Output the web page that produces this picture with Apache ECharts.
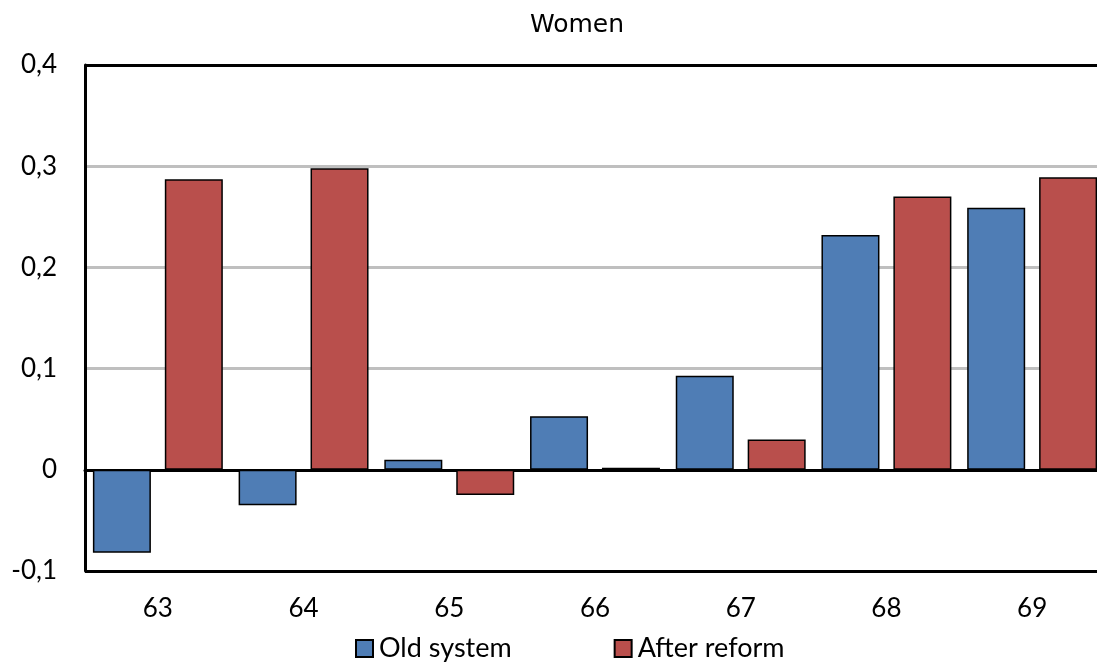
<!DOCTYPE html>
<html><head><meta charset="utf-8">
<script src="https://cdn.jsdelivr.net/npm/echarts@6/dist/echarts.min.js"></script>
<style>html,body{margin:0;padding:0;background:#fff}#c{width:1097px;height:666px}</style>
</head><body><div id="c"></div>
<script>
const categories = ['63','64','65','66','67','68','69'];
const oldSystem = [-0.082, -0.035, 0.010, 0.053, 0.093, 0.232, 0.259];
const afterReform = [0.287, 0.298, -0.025, 0.002, 0.030, 0.270, 0.289];
const seriesNames = ['Old system', 'After reform'];
const title = 'Women';
const yTicks = {min: -0.1, max: 0.4, interval: 0.1};

const FONT = 'Lato, "Open Sans", sans-serif';
const chart = echarts.init(document.getElementById('c'), null, {renderer:'canvas'});
const borderLine = {
  silent: true, symbol: 'none', animation: false,
  label: {show: false},
  lineStyle: {color: '#000', width: 3, type: 'solid'},
  data: [{yAxis: yTicks.max}, {yAxis: yTicks.min}]
};
chart.setOption({
  animation: false,
  backgroundColor: '#fff',
  title: {text: title, left: 577, top: 13, padding: 0, textAlign: 'center',
    textStyle: {fontFamily: '"DejaVu Sans", sans-serif', fontSize: 25, fontWeight: 'normal', color: '#000'}},
  legend: {top: 635, left: 355, padding: 0, itemWidth: 17, itemHeight: 17, itemGap: 102,
    icon: 'rect',
    itemStyle: {borderColor: '#000', borderWidth: 2},
    textStyle: {fontFamily: FONT, fontSize: 27, color: '#000', padding: [0,0,0,1]},
    data: seriesNames},
  grid: {left: 85, top: 65, height: 506, width: 1020, outerBoundsMode: 'none', containLabel: false},
  xAxis: [{
    type: 'category', data: categories, position: 'bottom',
    axisLine: {show: false, onZero: false}, axisTick: {show: false},
    axisLabel: {fontFamily: FONT, fontSize: 26, color: '#000', margin: 25}
  }, {
    type: 'category', data: categories, position: 'bottom',
    axisLine: {show: true, onZero: true, lineStyle: {color: '#000', width: 3}},
    axisTick: {show: false}, axisLabel: {show: false}
  }],
  yAxis: {
    type: 'value', min: yTicks.min, max: yTicks.max, interval: yTicks.interval,
    axisLine: {show: true, lineStyle: {color: '#000', width: 3}}, axisTick: {show: false},
    splitLine: {lineStyle: {color: '#bfbfbf', width: 3}},
    axisLabel: {fontFamily: FONT, fontSize: 26, color: '#000', margin: 28,
      formatter: v => { const r = Math.round(v*10)/10; return r === 0 ? '0' : r.toFixed(1).replace('.', ','); }}
  },
  series: [{
    name: seriesNames[0], type: 'bar', data: oldSystem, barWidth: 58, barGap: '24%',
    itemStyle: {color: '#4f7db5', borderColor: '#000', borderWidth: 1.5},
    markLine: borderLine
  }, {
    name: seriesNames[1], type: 'bar', data: afterReform, barWidth: 58, barGap: '24%',
    itemStyle: {color: '#b94f4c', borderColor: '#000', borderWidth: 1.5}
  }]
});
</script></body></html>
